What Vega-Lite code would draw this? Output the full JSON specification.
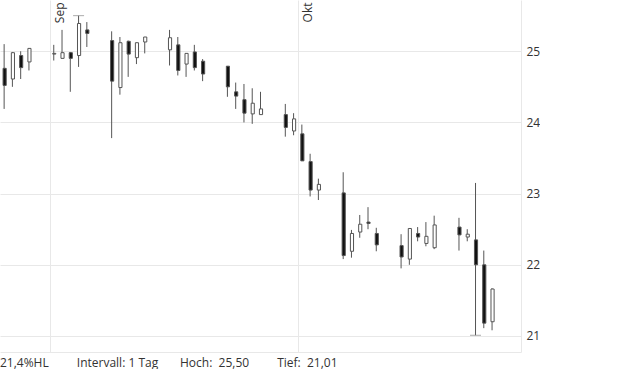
{
  "$schema": "https://vega.github.io/schema/vega-lite/v6.json",
  "width": 521,
  "height": 352,
  "padding": 0,
  "autosize": {"type": "pad"},
  "background": "white",
  "config": {
    "font": "Open Sans",
    "view": {"stroke": null},
    "axis": {"labelFont": "Open Sans", "labelFontSize": 12, "labelColor": "#333333"}
  },
  "title": {
    "text": "21,4%HL\u00a0\u00a0\u00a0\u00a0\u00a0\u00a0\u00a0\u00a0\u00a0Intervall: 1 Tag\u00a0\u00a0\u00a0\u00a0\u00a0\u00a0\u00a0Hoch:\u00a0\u00a025,50\u00a0\u00a0\u00a0\u00a0\u00a0\u00a0\u00a0\u00a0\u00a0Tief:\u00a0\u00a021,01",
    "orient": "bottom",
    "anchor": "start",
    "frame": "group",
    "font": "Open Sans",
    "fontSize": 12,
    "fontWeight": "normal",
    "color": "#333333",
    "offset": 6
  },
  "datasets": {
    "candles": [
      {"date": "2025-08-26", "open": 24.76, "high": 25.10, "low": 24.19, "close": 24.52},
      {"date": "2025-08-27", "open": 24.61, "high": 24.99, "low": 24.50, "close": 24.98},
      {"date": "2025-08-28", "open": 24.94, "high": 25.00, "low": 24.61, "close": 24.77},
      {"date": "2025-08-29", "open": 24.85, "high": 25.04, "low": 24.73, "close": 25.04},
      {"date": "2025-09-01", "open": 24.96, "high": 25.09, "low": 24.87, "close": 24.97},
      {"date": "2025-09-02", "open": 24.90, "high": 25.30, "low": 24.90, "close": 24.98},
      {"date": "2025-09-03", "open": 24.98, "high": 24.99, "low": 24.43, "close": 24.90},
      {"date": "2025-09-04", "open": 24.94, "high": 25.50, "low": 24.78, "close": 25.39},
      {"date": "2025-09-05", "open": 25.30, "high": 25.41, "low": 25.06, "close": 25.25},
      {"date": "2025-09-08", "open": 25.15, "high": 25.28, "low": 23.78, "close": 24.58},
      {"date": "2025-09-09", "open": 24.49, "high": 25.20, "low": 24.39, "close": 25.12},
      {"date": "2025-09-10", "open": 25.14, "high": 25.15, "low": 24.64, "close": 24.96},
      {"date": "2025-09-11", "open": 24.91, "high": 25.12, "low": 24.82, "close": 25.12},
      {"date": "2025-09-12", "open": 25.13, "high": 25.20, "low": 24.97, "close": 25.20},
      {"date": "2025-09-15", "open": 25.02, "high": 25.30, "low": 24.80, "close": 25.19},
      {"date": "2025-09-16", "open": 25.09, "high": 25.20, "low": 24.66, "close": 24.73},
      {"date": "2025-09-17", "open": 24.82, "high": 24.97, "low": 24.64, "close": 24.97},
      {"date": "2025-09-18", "open": 24.99, "high": 25.09, "low": 24.73, "close": 24.77},
      {"date": "2025-09-19", "open": 24.86, "high": 24.89, "low": 24.58, "close": 24.68},
      {"date": "2025-09-22", "open": 24.79, "high": 24.79, "low": 24.36, "close": 24.50},
      {"date": "2025-09-23", "open": 24.43, "high": 24.56, "low": 24.19, "close": 24.37},
      {"date": "2025-09-24", "open": 24.32, "high": 24.54, "low": 24.00, "close": 24.13},
      {"date": "2025-09-25", "open": 24.12, "high": 24.48, "low": 23.98, "close": 24.27},
      {"date": "2025-09-26", "open": 24.11, "high": 24.43, "low": 24.11, "close": 24.19},
      {"date": "2025-09-29", "open": 24.11, "high": 24.26, "low": 23.80, "close": 23.93},
      {"date": "2025-09-30", "open": 23.88, "high": 24.13, "low": 23.82, "close": 24.05},
      {"date": "2025-10-01", "open": 23.84, "high": 23.97, "low": 23.46, "close": 23.46},
      {"date": "2025-10-02", "open": 23.45, "high": 23.56, "low": 22.96, "close": 23.05},
      {"date": "2025-10-03", "open": 23.05, "high": 23.21, "low": 22.91, "close": 23.13},
      {"date": "2025-10-06", "open": 23.01, "high": 23.30, "low": 22.08, "close": 22.13},
      {"date": "2025-10-07", "open": 22.19, "high": 22.49, "low": 22.10, "close": 22.44},
      {"date": "2025-10-08", "open": 22.46, "high": 22.70, "low": 22.38, "close": 22.57},
      {"date": "2025-10-09", "open": 22.60, "high": 22.81, "low": 22.50, "close": 22.58},
      {"date": "2025-10-10", "open": 22.44, "high": 22.52, "low": 22.19, "close": 22.28},
      {"date": "2025-10-13", "open": 22.27, "high": 22.43, "low": 21.95, "close": 22.11},
      {"date": "2025-10-14", "open": 22.08, "high": 22.51, "low": 22.00, "close": 22.51},
      {"date": "2025-10-15", "open": 22.44, "high": 22.53, "low": 22.33, "close": 22.39},
      {"date": "2025-10-16", "open": 22.30, "high": 22.60, "low": 22.26, "close": 22.40},
      {"date": "2025-10-17", "open": 22.24, "high": 22.69, "low": 22.22, "close": 22.56},
      {"date": "2025-10-20", "open": 22.53, "high": 22.66, "low": 22.20, "close": 22.42},
      {"date": "2025-10-21", "open": 22.39, "high": 22.50, "low": 22.33, "close": 22.43},
      {"date": "2025-10-22", "open": 22.35, "high": 23.15, "low": 21.01, "close": 22.00},
      {"date": "2025-10-23", "open": 22.00, "high": 22.20, "low": 21.11, "close": 21.18},
      {"date": "2025-10-24", "open": 21.20, "high": 21.67, "low": 21.08, "close": 21.66}
    ],
    "extremes": [
      {"date": "2025-09-04", "value": 25.50},
      {"date": "2025-10-22", "value": 21.01}
    ]
  },
  "layer": [
    {
      "data": {"name": "candles"},
      "mark": {"type": "rule", "color": "#555555", "strokeWidth": 1},
      "encoding": {
        "x": {
          "field": "date", "type": "temporal", "timeUnit": "utcyearmonthdate", "bandPosition": 0.5,
          "scale": {"domain": [{"year": 2025, "month": 8, "date": 26, "utc": true}, {"year": 2025, "month": 10, "date": 28, "utc": true}]},
          "axis": {
            "orient": "top",
            "values": [{"year": 2025, "month": 9, "date": 1, "utc": true}, {"year": 2025, "month": 10, "date": 1, "utc": true}],
            "labelExpr": "utcmonth(datum.value) == 8 ? 'Sep' : 'Okt'",
            "labelAngle": 270, "labelAlign": "right", "labelBaseline": "top",
            "labelPadding": -2, "labelOffset": 5,
            "ticks": false, "domain": false, "grid": true, "gridColor": "#e8e8e8",
            "title": null
          }
        },
        "y": {
          "field": "low", "type": "quantitative",
          "scale": {"domain": [20.775, 25.72], "nice": false, "zero": false},
          "axis": {
            "orient": "right", "values": [21, 22, 23, 24, 25],
            "grid": true, "gridColor": "#e8e8e8", "domain": true, "domainColor": "#e8e8e8",
            "ticks": false, "labelPadding": 5, "title": null
          }
        },
        "y2": {"field": "high"}
      }
    },
    {
      "data": {"name": "candles"},
      "mark": {"type": "bar", "width": {"band": 0.5}, "stroke": "#555555", "strokeWidth": 1},
      "encoding": {
        "x": {
          "field": "date", "type": "temporal", "timeUnit": "utcyearmonthdate",
          "axis": {"orient": "bottom", "labels": false, "ticks": false, "grid": false, "domain": true, "domainColor": "#e8e8e8", "title": null}
        },
        "y": {
          "field": "open", "type": "quantitative",
          "scale": {"domain": [20.775, 25.72], "nice": false, "zero": false},
          "axis": {
            "orient": "right", "values": [21, 22, 23, 24, 25],
            "grid": true, "gridColor": "#e8e8e8", "domain": true, "domainColor": "#e8e8e8",
            "ticks": false, "labelPadding": 5, "title": null
          }
        },
        "y2": {"field": "close"},
        "fill": {"condition": {"test": "datum.close < datum.open", "value": "#111111"}, "value": "#ffffff"}
      }
    },
    {
      "data": {"name": "extremes"},
      "mark": {"type": "tick", "orient": "horizontal", "size": 11, "thickness": 1, "color": "#888888"},
      "encoding": {
        "x": {"field": "date", "type": "temporal", "timeUnit": "utcyearmonthdate", "bandPosition": 0.5, "axis": null},
        "y": {
          "field": "value", "type": "quantitative",
          "scale": {"domain": [20.775, 25.72], "nice": false, "zero": false},
          "axis": {
            "orient": "right", "values": [21, 22, 23, 24, 25],
            "grid": true, "gridColor": "#e8e8e8", "domain": true, "domainColor": "#e8e8e8",
            "ticks": false, "labelPadding": 5, "title": null
          }
        }
      }
    }
  ],
  "resolve": {"axis": {"x": "independent"}}
}
